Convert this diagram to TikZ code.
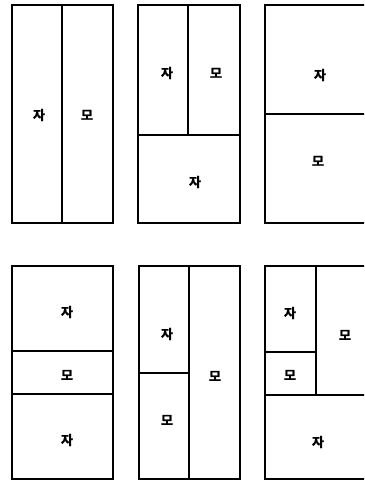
\documentclass[tikz,border=0pt]{standalone}
\usepackage{fontspec}
\newfontfamily\kr[FakeBold=1.5]{Noto Sans CJK KR Bold}
\begin{document}
\begin{tikzpicture}[x=1pt,y=-1pt,line width=1.1pt,
  lbl/.style={font=\kr\fontsize{13}{14}\selectfont,inner sep=0pt},
  box/.style={draw=black}]
\useasboundingbox (0,0) rectangle (364,481);
\clip (0,0) rectangle (364,481);
% Rect 1
\draw[box] (12,5) rectangle (113,223);
\draw[box] (62,5) -- (62,223);
\node[lbl] (a1) at (39,115) {자};
\node[lbl] (a2) at (87,115) {모};
% Rect 2
\draw[box] (138,5) rectangle (240,223);
\draw[box] (188,5) -- (188,135);
\draw[box] (138,135) -- (240,135);
\node[lbl] (b1) at (167,73) {자};
\node[lbl] (b2) at (216,73) {모};
\node[lbl] (b3) at (195,182) {자};
% Rect 3
\draw[box] (265,5) rectangle (367,223);
\draw[box] (265,114) -- (367,114);
\node[lbl] (c1) at (320,75) {자};
\node[lbl] (c2) at (318,161) {모};
% Rect 4
\draw[box] (12,266) rectangle (113,479);
\draw[box] (12,351) -- (113,351);
\draw[box] (12,394) -- (113,394);
\node[lbl] (d1) at (67,312) {자};
\node[lbl] (d2) at (67,375) {모};
\node[lbl] (d3) at (67,440) {자};
% Rect 5
\draw[box] (139,266) rectangle (240,479);
\draw[box] (189,266) -- (189,479);
\draw[box] (139,373) -- (189,373);
\node[lbl] (e1) at (167,334) {자};
\node[lbl] (e2) at (167,420) {모};
\node[lbl] (e3) at (215,376) {모};
% Rect 6
\draw[box] (265,266) rectangle (367,479);
\draw[box] (316,266) -- (316,395);
\draw[box] (265,352) -- (316,352);
\draw[box] (265,395) -- (367,395);
\node[lbl] (f1) at (290,313) {자};
\node[lbl] (f2) at (290,375) {모};
\node[lbl] (f3) at (345,335) {모};
\node[lbl] (f4) at (318,442) {자};
\end{tikzpicture}
\end{document}
